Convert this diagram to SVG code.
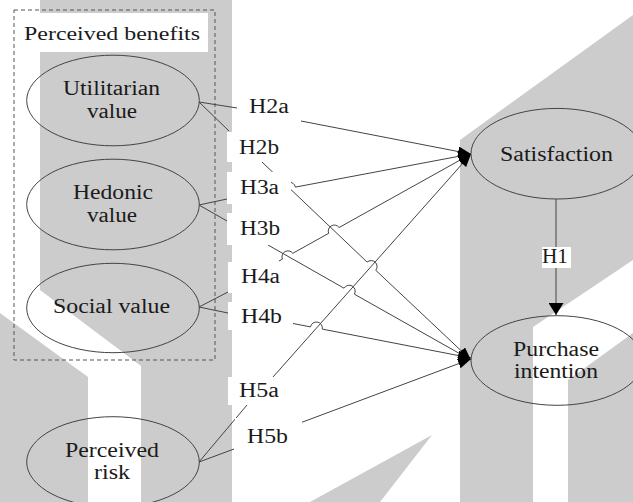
<svg xmlns="http://www.w3.org/2000/svg" width="633" height="502" viewBox="0 0 633 502">
<style>
.bg{fill:#cccccc}
.ell{fill:none;stroke:#444;stroke-width:1}
.t{font-family:"Liberation Serif","Times New Roman",serif;font-size:20px;fill:#1a1a1a}
.box{fill:#fff}
.edge{fill:none;stroke:#444;stroke-width:1}
.arr{marker-end:url(#ah)}
</style>
<defs>
<marker id="ah" markerUnits="userSpaceOnUse" markerWidth="13" markerHeight="10" refX="13" refY="5" orient="auto">
<path d="M0,0 L13,5 L0,10 z" fill="#000"/>
</marker>
<marker id="ah1" markerUnits="userSpaceOnUse" markerWidth="12" markerHeight="15" refX="12" refY="7.5" orient="auto">
<path d="M0,0 L12,7.5 L0,15 z" fill="#000"/>
</marker>
</defs>
<g id="background">
<polygon class="bg" points="40,0 232,0 232,502 141,502 141,366 40,290"/>
<polygon class="bg" points="0,313 88,377 88,502 0,502"/>
<polygon class="bg" points="460,140 633,15 633,260 533,327 533,502 460,502"/>
<polygon class="bg" points="568,380 633,333 633,502 568,502"/>
<polygon class="bg" points="432,435 310,502 380,502"/>
</g>
<g id="perceived-benefits">
<rect x="14" y="10" width="201" height="350" fill="none" stroke="#555" stroke-width="1" stroke-dasharray="4,3"/>
<rect class="box" x="23" y="13" width="185" height="39"/>
<text class="t" x="24" y="39.5" style="font-size:18.5px" textLength="176" lengthAdjust="spacingAndGlyphs">Perceived benefits</text>
</g>
<g id="connectors">
<path class="edge" d="M199,102 L237,108"/>
<path class="edge" d="M199,102 L229,131"/>
<path class="edge" d="M199,205 L227,199"/>
<path class="edge" d="M199,205 L227,221"/>
<path class="edge" d="M199,307 L228,292"/>
<path class="edge" d="M199,307 L228,313"/>
<path class="edge" d="M199,462 L247,405"/>
<path class="edge" d="M199,462 L234,449"/>
<path class="edge arr" d="M301,121 L471,154"/>
<path class="edge arr" d="M280,190 L283.6,189.3 A6,6 0 0 1 295.4,187.1 L471,154"/>
<path class="edge arr" d="M279,261 L282.4,259.1 A6,6 0 0 1 292.8,253.3 L328.7,233.3 A6,6 0 0 1 339.1,227.5 L471,154"/>
<path class="edge arr" d="M273,377 L471,154"/>
<path class="edge arr" d="M262,162 L367.1,262.1 A6,6 0 0 1 375.8,270.3 L471,360"/>
<path class="edge arr" d="M268,245 L344,288.2 A6,6 0 0 1 354.4,294.2 L471,360"/>
<path class="edge arr" d="M293,323.5 L310.5,326.9 A6,6 0 0 1 322.3,329.1 L471,358"/>
<path class="edge arr" d="M300,423 L471,359"/>
<path class="edge" d="M556,199 L556,315" marker-end="url(#ah1)"/>
</g>
<g id="edge-labels">
<g id="lbl-H2a"><rect class="box" x="237" y="90" width="64" height="32"/><text class="t" x="249" y="112.7" textLength="40" lengthAdjust="spacingAndGlyphs">H2a</text></g>
<g id="lbl-H2b"><rect class="box" x="227" y="132" width="63" height="30"/><text class="t" x="239" y="154" textLength="40" lengthAdjust="spacingAndGlyphs">H2b</text></g>
<g id="lbl-H3a"><rect class="box" x="227" y="172" width="64" height="32"/><text class="t" x="240" y="194.3" textLength="39" lengthAdjust="spacingAndGlyphs">H3a</text></g>
<g id="lbl-H3b"><rect class="box" x="227" y="213" width="66" height="32"/><text class="t" x="240" y="235" textLength="40" lengthAdjust="spacingAndGlyphs">H3b</text></g>
<g id="lbl-H4a"><rect class="box" x="228" y="262" width="64" height="31"/><text class="t" x="241" y="282.7" textLength="39" lengthAdjust="spacingAndGlyphs">H4a</text></g>
<g id="lbl-H4b"><rect class="box" x="228" y="302" width="65" height="28"/><text class="t" x="241" y="323.3" textLength="41" lengthAdjust="spacingAndGlyphs">H4b</text></g>
<g id="lbl-H5a"><rect class="box" x="228" y="377" width="62" height="28"/><text class="t" x="239" y="396.7" textLength="40" lengthAdjust="spacingAndGlyphs">H5a</text></g>
<g id="lbl-H5b"><rect class="box" x="235" y="418" width="67" height="34"/><text class="t" x="247" y="442.7" textLength="41" lengthAdjust="spacingAndGlyphs">H5b</text></g>
<g id="lbl-H1"><rect class="box" x="542" y="247" width="29" height="21"/><text class="t" x="542" y="263" textLength="26" lengthAdjust="spacingAndGlyphs">H1</text></g>
</g>
<g id="utilitarian-value">
<ellipse class="ell" cx="113" cy="100.5" rx="86.3" ry="45.3"/>
<text class="t" x="63" y="95" textLength="97" lengthAdjust="spacingAndGlyphs">Utilitarian</text>
<text class="t" x="87" y="118.3" textLength="50" lengthAdjust="spacingAndGlyphs">value</text>
</g>
<g id="hedonic-value">
<ellipse class="ell" cx="113" cy="204.5" rx="86.3" ry="45.3"/>
<text class="t" x="73" y="199.3" textLength="80" lengthAdjust="spacingAndGlyphs">Hedonic</text>
<text class="t" x="87" y="221.7" textLength="50" lengthAdjust="spacingAndGlyphs">value</text>
</g>
<g id="social-value">
<ellipse class="ell" cx="113" cy="308" rx="86.3" ry="44.7"/>
<text class="t" x="53" y="313.3" textLength="117" lengthAdjust="spacingAndGlyphs">Social value</text>
</g>
<g id="perceived-risk">
<ellipse class="ell" cx="113" cy="462" rx="86.3" ry="45.3"/>
<text class="t" x="65" y="456.7" textLength="94" lengthAdjust="spacingAndGlyphs">Perceived</text>
<text class="t" x="94" y="479.3" textLength="36" lengthAdjust="spacingAndGlyphs">risk</text>
</g>
<g id="satisfaction">
<ellipse class="ell" cx="557" cy="153.7" rx="86" ry="45.3"/>
<text class="t" x="500" y="160.7" textLength="113" lengthAdjust="spacingAndGlyphs">Satisfaction</text>
</g>
<g id="purchase-intention">
<ellipse class="ell" cx="557" cy="360.5" rx="86" ry="44.8"/>
<text class="t" x="513" y="356" textLength="86" lengthAdjust="spacingAndGlyphs">Purchase</text>
<text class="t" x="514" y="378.3" textLength="84" lengthAdjust="spacingAndGlyphs">intention</text>
</g>
</svg>
